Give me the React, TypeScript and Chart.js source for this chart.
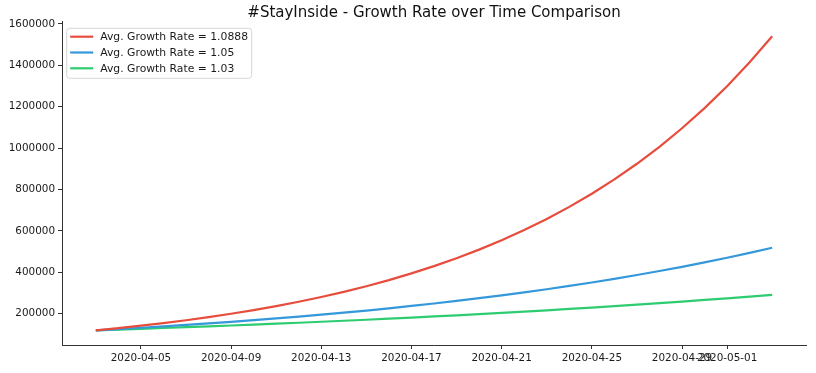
import React, { useEffect, useRef } from "react";
import { Chart, registerables } from "chart.js";
Chart.register(...registerables);

const chartTitle = "#StayInside - Growth Rate over Time Comparison";
const seriesLabels = ["Avg. Growth Rate = 1.0888", "Avg. Growth Rate = 1.05", "Avg. Growth Rate = 1.03"];
const seriesColors = ["#e74c3c", "#3498db", "#2ecc71"];

// day offsets from 2020-04-03 (one point per day, through 2020-05-03)
const dayOffsets = [0, 1, 2, 3, 4, 5, 6, 7, 8, 9, 10, 11, 12, 13, 14, 15, 16, 17, 18, 19, 20, 21, 22, 23, 24, 25, 26, 27, 28, 29, 30];

const redValues = [120000, 130656, 142258, 154891, 168645, 183621, 199926, 217680, 237010, 258056, 280972, 305922, 333088, 362666, 394871, 429935, 468114, 509682, 554942, 604221, 657876, 716295, 779902, 849157, 924562, 1006663, 1096055, 1193385, 1299357, 1414740, 1540369];
const blueValues = [120000, 126000, 132300, 138915, 145861, 153154, 160811, 168852, 177295, 186159, 195467, 205241, 215503, 226278, 237592, 249471, 261945, 275042, 288794, 303234, 318396, 334316, 351031, 368583, 387012, 406363, 426681, 448015, 470416, 493936, 518633];
const greenValues = [120000, 123600, 127308, 131127, 135061, 139113, 143286, 147585, 152012, 156573, 161270, 166108, 171091, 176224, 181511, 186956, 192565, 198342, 204292, 210421, 216733, 223235, 229932, 236830, 243935, 251253, 258791, 266555, 274551, 282788, 291271];

const xTickDays = [2, 6, 10, 14, 18, 22, 26, 28];
const xTickLabels = ["2020-04-05", "2020-04-09", "2020-04-13", "2020-04-17", "2020-04-21", "2020-04-25", "2020-04-29", "2020-05-01"];
const yTickValues = [200000, 400000, 600000, 800000, 1000000, 1200000, 1400000, 1600000];

const FONT = "'DejaVu Sans', sans-serif";
const TEXT = "#1a1a1a";
const AXIS = "#333333";

export default function App() {
  const ref = useRef<HTMLCanvasElement | null>(null);
  useEffect(() => {
    document.body.style.margin = "0";
    const canvas = ref.current!;
    const allSeries = [redValues, blueValues, greenValues];

    const overlay = {
      id: "overlay",
      afterDraw(chart: any) {
        const ctx = chart.ctx as CanvasRenderingContext2D;
        const area = chart.chartArea;
        ctx.save();
        // title
        ctx.fillStyle = "#111";
        ctx.font = `15px ${FONT}`;
        ctx.textAlign = "center";
        ctx.textBaseline = "middle";
        ctx.fillText(chartTitle, (area.left + area.right) / 2, 13);
        // legend
        const bx = area.left + 4.7, by = 28.3, bw = 185, bh = 50;
        ctx.beginPath();
        (ctx as any).roundRect(bx, by, bw, bh, 3);
        ctx.fillStyle = "rgba(255,255,255,0.85)";
        ctx.fill();
        ctx.strokeStyle = "#d6d6d6";
        ctx.lineWidth = 1;
        ctx.stroke();
        ctx.font = `10.8px ${FONT}`;
        ctx.textAlign = "left";
        ctx.textBaseline = "middle";
        seriesLabels.forEach((lab, i) => {
          const y = by + 8.4 + i * 15.8;
          ctx.beginPath();
          ctx.moveTo(bx + 3.5, y);
          ctx.lineTo(bx + 26.5, y);
          ctx.strokeStyle = seriesColors[i];
          ctx.lineWidth = 2.2;
          ctx.stroke();
          ctx.fillStyle = TEXT;
          ctx.fillText(lab, bx + 33.5, y + 0.5);
        });
        ctx.restore();
      },
    };

    const chart = new Chart(canvas, {
      type: "line",
      data: {
        datasets: allSeries.map((vals, i) => ({
          label: seriesLabels[i],
          data: vals.map((v, j) => ({ x: dayOffsets[j], y: v })),
          borderColor: seriesColors[i],
          backgroundColor: seriesColors[i],
          borderWidth: 2.2,
          pointRadius: 0,
          tension: 0,
          fill: false,
        })),
      },
      options: {
        responsive: false,
        animation: false,
        layout: { padding: { top: 21.6, right: 10, left: 0, bottom: 0 } },
        plugins: { legend: { display: false }, title: { display: false }, tooltip: { enabled: false } },
        scales: {
          x: {
            type: "linear",
            min: -1.5,
            max: 31.5,
            afterBuildTicks: (s: any) => {
              s.ticks = xTickDays.map((v) => ({ value: v }));
            },
            afterFit: (s: any) => {
              s.height = 28;
            },
            grid: { drawOnChartArea: false, drawTicks: true, tickLength: 4, color: AXIS },
            border: { display: true, color: AXIS, width: 1 },
            ticks: {
              autoSkip: false,
              maxRotation: 0,
              minRotation: 0,
              padding: 3,
              color: TEXT,
              font: { family: FONT, size: 10.4 },
              callback: (v: any) => {
                const k = xTickDays.indexOf(Number(v));
                return k >= 0 ? xTickLabels[k] : "";
              },
            },
          },
          y: {
            type: "linear",
            min: 48982,
            max: 1611387,
            afterBuildTicks: (s: any) => {
              s.ticks = yTickValues.map((v) => ({ value: v }));
            },
            afterFit: (s: any) => {
              s.width = 62;
            },
            grid: { drawOnChartArea: false, drawTicks: true, tickLength: 4, color: AXIS },
            border: { display: true, color: AXIS, width: 1 },
            ticks: {
              padding: 3,
              color: TEXT,
              font: { family: FONT, size: 10.4 },
              callback: (v: any) => String(v),
            },
          },
        },
      },
      plugins: [overlay],
    });
    return () => chart.destroy();
  }, []);
  return (
    <div style={{ width: 816, height: 373 }}>
      <canvas ref={ref} width={816} height={373} style={{ display: "block" }} />
    </div>
  );
}
